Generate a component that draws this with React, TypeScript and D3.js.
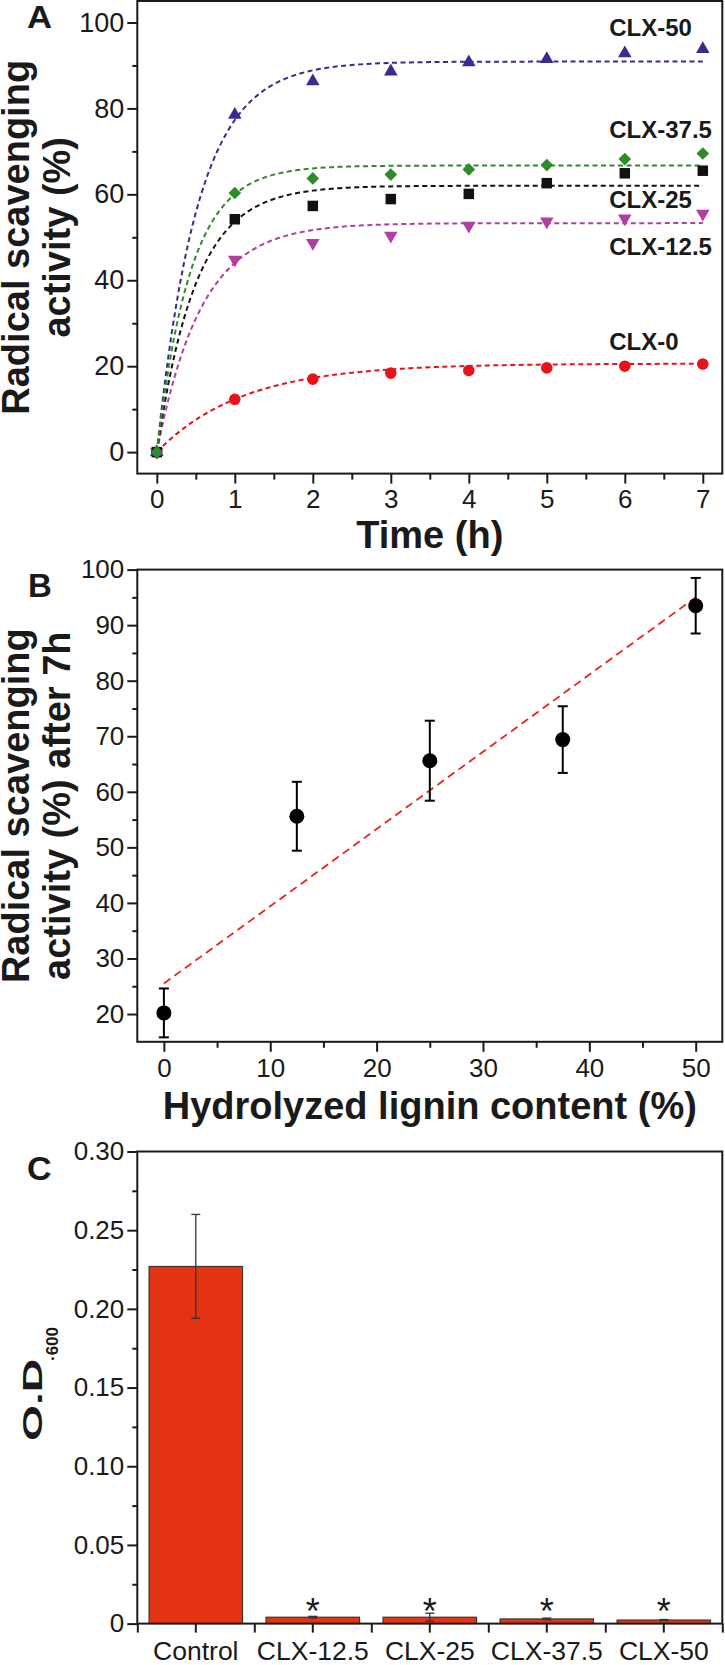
// @ts-nocheck
import React, { useEffect, useRef } from "react";
import * as d3 from "d3";

// Panel A: radical scavenging activity vs time
const hours = [0, 1, 2, 3, 4, 5, 6, 7];
const clx0 = [0, 12.3, 17.0, 18.4, 19.0, 19.6, 20.0, 20.5];
const clx125 = [0, 44.8, 48.7, 50.4, 52.7, 53.7, 54.4, 55.5];
const clx25 = [0, 54.2, 57.3, 58.9, 60.1, 62.6, 64.9, 65.5];
const clx375 = [0, 60.3, 63.7, 64.6, 65.8, 66.8, 68.2, 69.5];
const clx50 = [0, 78.5, 86.3, 88.6, 90.7, 91.5, 92.8, 93.8];
// exponential fit parameters (plateau, rate)
const fitNames = ["CLX-0", "CLX-12.5", "CLX-25", "CLX-50", "CLX-37.5"];
const fitPlateau = [20.6, 53.3, 62.0, 90.9, 66.7];
const fitRate = [0.91, 1.75, 2.0, 1.9, 2.3];

// Panel B: activity after 7h vs lignin content
const ligninContent = [0, 12.5, 25, 37.5, 50];
const activity7h = [20.2, 55.6, 65.6, 69.4, 93.5];
const activityErr = [4.4, 6.2, 7.2, 6.0, 5.0];
const trendX = [0, 50];
const trendY = [25.5, 95.0];

// Panel C: O.D.600
const groups = ["Control", "CLX-12.5", "CLX-25", "CLX-37.5", "CLX-50"];
const od600 = [0.227, 0.0041, 0.0041, 0.003, 0.0023];
const odErr = [0.033, 0.0005, 0.0025, 0.0005, 0.0003];
const significant = [false, true, true, true, true];

const font = "'Liberation Sans', Arial, Helvetica, sans-serif";
const ink = "#1a1a1a";

const seriesStyle = {
  "CLX-0": { data: clx0, color: "#e8131a", symbol: "circle", label: 23.8 },
  "CLX-12.5": { data: clx125, color: "#b03fa0", symbol: "down", label: 45.9 },
  "CLX-25": { data: clx25, color: "#111111", symbol: "square", label: 56.8 },
  "CLX-50": { data: clx50, color: "#3d2a8e", symbol: "up", label: 96.9 },
  "CLX-37.5": { data: clx375, color: "#2f8a2a", symbol: "diamond", label: 73.1 },
};

export default function App() {
  const ref = useRef(null);

  useEffect(() => {
    const svg = d3.select(ref.current);
    svg.selectAll("*").remove();
    const left = 137.3, right = 722.3;

    const styleAxis = (size) => (g) => {
      g.select(".domain").remove();
      g.selectAll("line").attr("stroke", ink).attr("stroke-width", 2);
      g.selectAll("text").attr("font-size", size).attr("font-family", font).attr("fill", ink);
    };
    const frame = (x0, y0, x1, y1) =>
      svg.append("rect").attr("x", x0).attr("y", y0).attr("width", x1 - x0).attr("height", y1 - y0)
        .attr("fill", "none").attr("stroke", ink).attr("stroke-width", 2);
    const boldText = (x, y, txt, size, anchor = "middle", rot = false, sx = 1) =>
      svg.append("text")
        .attr("transform", `translate(${x},${y})${rot ? " rotate(-90)" : ""} scale(${sx},1)`)
        .attr("text-anchor", anchor).attr("font-family", font).attr("font-weight", "bold")
        .attr("font-size", size).attr("fill", ink).text(txt);

    // ---------------- Panel A ----------------
    const aTop = 1, aBot = 473.6;
    const xA = d3.scaleLinear().domain([-0.25, 7.25]).range([left, right]);
    const yA = d3.scaleLinear().domain([-5, 105]).range([aBot, aTop]);

    svg.append("g").attr("transform", `translate(${left},0)`)
      .call(d3.axisLeft(yA).tickValues([10, 30, 50, 70, 90]).tickSize(5).tickFormat(""))
      .call(styleAxis(27));
    svg.append("g").attr("transform", `translate(${left},0)`)
      .call(d3.axisLeft(yA).tickValues([0, 20, 40, 60, 80, 100]).tickSize(10).tickPadding(3))
      .call(styleAxis(27));
    svg.append("g").attr("transform", `translate(0,${aBot})`)
      .call(d3.axisBottom(xA).tickValues(d3.range(0.5, 7, 1)).tickSize(6).tickFormat(""))
      .call(styleAxis(26));
    svg.append("g").attr("transform", `translate(0,${aBot})`)
      .call(d3.axisBottom(xA).tickValues(hours).tickSize(10).tickPadding(6))
      .call(styleAxis(26));

    const tFine = d3.range(0, 7.0001, 0.05);
    fitNames.forEach((name, i) => {
      const st = seriesStyle[name];
      const line = d3.line()
        .x((t) => xA(t))
        .y((t) => yA(fitPlateau[i] * (1 - Math.exp(-fitRate[i] * t))));
      svg.append("path").datum(tFine).attr("d", line).attr("fill", "none")
        .attr("stroke", st.color).attr("stroke-width", 2).attr("stroke-dasharray", "5 3.5");
    });

    const symbols = {
      circle: { type: d3.symbolCircle, size: 106, rot: 0 },
      down: { type: d3.symbolTriangle, size: 80, rot: 180 },
      up: { type: d3.symbolTriangle, size: 80, rot: 0 },
      square: { type: d3.symbolSquare, size: 110, rot: 0 },
      diamond: { type: d3.symbolSquare, size: 80, rot: 45 },
    };
    fitNames.forEach((name) => {
      const st = seriesStyle[name];
      const sym = symbols[st.symbol];
      const path = d3.symbol().type(sym.type).size(sym.size)();
      svg.append("g").selectAll("path").data(hours).join("path")
        .attr("d", path)
        .attr("transform", (t, j) => `translate(${xA(t)},${yA(st.data[j])}) rotate(${sym.rot})`)
        .attr("fill", st.color);
      boldText(xA(5.8), yA(st.label), name, 24, "start");
    });

    frame(left, aTop, right, aBot);
    boldText(28.5, (aTop + aBot) / 2, "Radical scavenging", 38, "middle", true);
    boldText(70, (aTop + aBot) / 2, "activity (%)", 38, "middle", true);
    boldText((left + right) / 2, 548, "Time (h)", 38);
    boldText(27, 27.5, "A", 31, "start", false, 1.12);

    // ---------------- Panel B ----------------
    const bTop = 569.6, bBot = 1041.8;
    const xB = d3.scaleLinear().domain([-2.5, 52.5]).range([left, right]);
    const yB = d3.scaleLinear().domain([15, 100]).range([bBot, bTop]);

    svg.append("g").attr("transform", `translate(${left},0)`)
      .call(d3.axisLeft(yB).tickValues(d3.range(25, 100, 10)).tickSize(5).tickFormat(""))
      .call(styleAxis(26));
    svg.append("g").attr("transform", `translate(${left},0)`)
      .call(d3.axisLeft(yB).tickValues(d3.range(20, 101, 10)).tickSize(10).tickPadding(3))
      .call(styleAxis(26));
    svg.append("g").attr("transform", `translate(0,${bBot})`)
      .call(d3.axisBottom(xB).tickValues(d3.range(5, 50, 10)).tickSize(6).tickFormat(""))
      .call(styleAxis(26));
    svg.append("g").attr("transform", `translate(0,${bBot})`)
      .call(d3.axisBottom(xB).tickValues(d3.range(0, 51, 10)).tickSize(10).tickPadding(7))
      .call(styleAxis(26));

    svg.append("path")
      .datum(trendX.map((x, i) => [x, trendY[i]]))
      .attr("d", d3.line().x((d) => xB(d[0])).y((d) => yB(d[1])))
      .attr("fill", "none").attr("stroke", "#e8251c").attr("stroke-width", 1.8)
      .attr("stroke-dasharray", "8 5");

    const eb = svg.append("g").attr("stroke", "#000").attr("stroke-width", 2);
    ligninContent.forEach((x, i) => {
      const cx = xB(x);
      const hi = yB(activity7h[i] + activityErr[i]);
      const lo = yB(activity7h[i] - activityErr[i]);
      eb.append("line").attr("x1", cx).attr("x2", cx).attr("y1", hi).attr("y2", lo);
      eb.append("line").attr("x1", cx - 5).attr("x2", cx + 5).attr("y1", hi).attr("y2", hi);
      eb.append("line").attr("x1", cx - 5).attr("x2", cx + 5).attr("y1", lo).attr("y2", lo);
    });
    svg.append("g").selectAll("circle").data(ligninContent).join("circle")
      .attr("cx", (d) => xB(d)).attr("cy", (d, i) => yB(activity7h[i]))
      .attr("r", 7.5).attr("fill", "#000");

    frame(left, bTop, right, bBot);
    boldText(28.5, (bTop + bBot) / 2, "Radical scavenging", 38, "middle", true);
    boldText(70, (bTop + bBot) / 2, "activity (%) after 7h", 38, "middle", true);
    boldText((left + right) / 2, 1119, "Hydrolyzed lignin content (%)", 38);
    boldText(28, 597, "B", 33, "start");

    // ---------------- Panel C ----------------
    const cTop = 1151.5, cBot = 1623.6;
    const xC = d3.scaleBand().domain(groups).range([left, right]).paddingInner(0.2).paddingOuter(0.1);
    const yC = d3.scaleLinear().domain([0, 0.3]).range([cBot, cTop]);

    svg.append("g").attr("transform", `translate(${left},0)`)
      .call(d3.axisLeft(yC).tickValues(d3.range(0.025, 0.3, 0.05)).tickSize(5).tickFormat(""))
      .call(styleAxis(26));
    svg.append("g").attr("transform", `translate(${left},0)`)
      .call(d3.axisLeft(yC).tickValues(d3.range(0, 0.301, 0.05)).tickSize(10).tickPadding(3)
        .tickFormat((d) => (d === 0 ? "0" : d3.format(".2f")(d))))
      .call(styleAxis(26));
    const edges = d3.scaleLinear().domain([0, groups.length]).range([left, right]);
    svg.append("g").attr("transform", `translate(0,${cBot})`)
      .call(d3.axisBottom(edges).tickValues(d3.range(0, groups.length + 1)).tickSize(9).tickFormat(""))
      .call(styleAxis(26));
    svg.append("g").attr("transform", `translate(0,${cBot})`)
      .call(d3.axisBottom(xC).tickSize(9).tickPadding(9))
      .call(styleAxis(26.5));

    svg.append("g").selectAll("rect").data(groups).join("rect")
      .attr("x", (d) => xC(d)).attr("width", xC.bandwidth())
      .attr("y", (d, i) => yC(od600[i])).attr("height", (d, i) => cBot - yC(od600[i]))
      .attr("fill", "#e43313").attr("stroke", "#2a2a2a").attr("stroke-width", 1);

    const ec = svg.append("g").attr("stroke", "#3a2f3a").attr("stroke-width", 1.3);
    groups.forEach((g, i) => {
      const cx = xC(g) + xC.bandwidth() / 2;
      const hi = yC(od600[i] + odErr[i]);
      const lo = yC(od600[i] - odErr[i]);
      ec.append("line").attr("x1", cx).attr("x2", cx).attr("y1", hi).attr("y2", lo);
      ec.append("line").attr("x1", cx - 4.5).attr("x2", cx + 4.5).attr("y1", hi).attr("y2", hi);
      ec.append("line").attr("x1", cx - 4.5).attr("x2", cx + 4.5).attr("y1", lo).attr("y2", lo);
      if (significant[i]) {
        svg.append("text").attr("x", cx).attr("y", cBot).attr("text-anchor", "middle")
          .attr("font-family", font).attr("font-size", 36).attr("fill", ink).text("*");
      }
    });

    frame(left, cTop, right, cBot);
    boldText(41.7, 1441, "O.D", 28, "start", true, 1.65);
    boldText(58.3, 1361, "·600", 17, "start", true);
    boldText(27, 1179.5, "C", 34, "start");
  }, []);

  return (
    <div style={{ position: "absolute", left: 0, top: 0 }}>
      <svg ref={ref} width={725} height={1665} style={{ display: "block", background: "#fff" }} />
    </div>
  );
}
